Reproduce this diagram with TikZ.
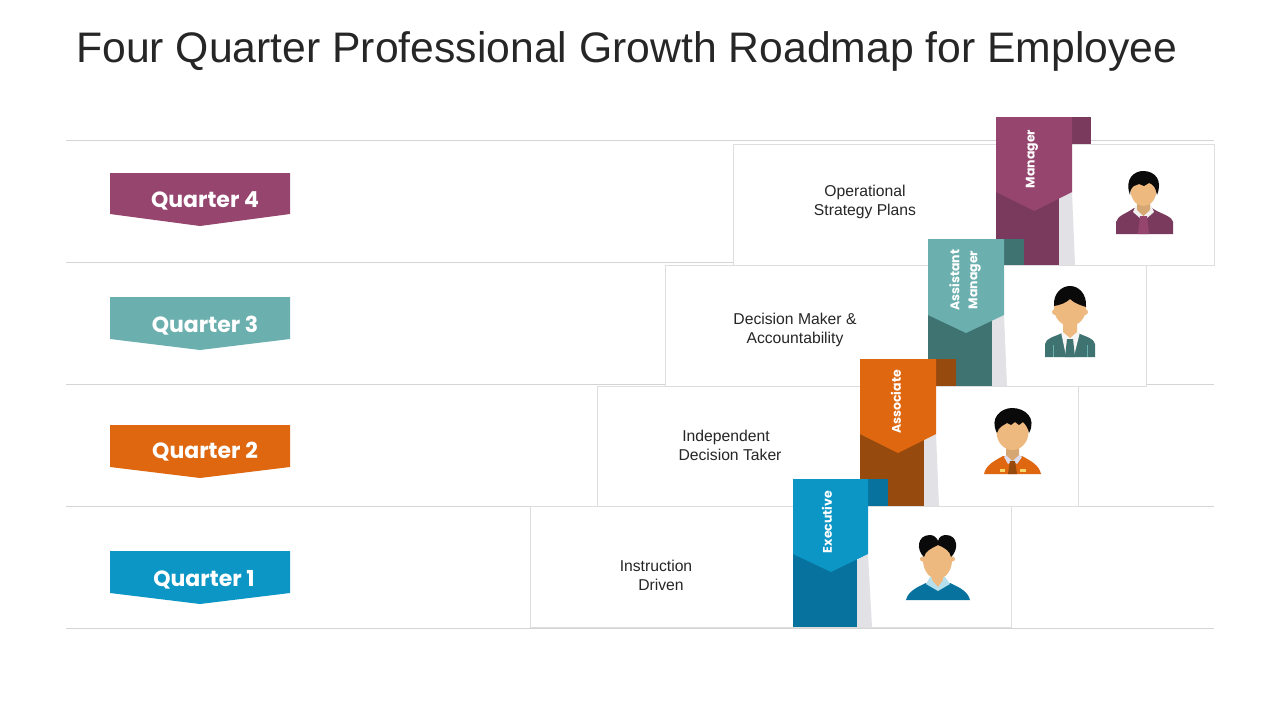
\documentclass[tikz,border=0pt]{standalone}
\usepackage{fontspec}
\setmainfont{Liberation Sans}
\newfontfamily\bannerfont{Poppins}
\usetikzlibrary{positioning,calc}
\definecolor{mgrfront}{HTML}{96456F}
\definecolor{mgrdark}{HTML}{7A3A5E}
\definecolor{astfront}{HTML}{6BB0AE}
\definecolor{astdark}{HTML}{3F7372}
\definecolor{ascfront}{HTML}{DE670F}
\definecolor{ascdark}{HTML}{964A0E}
\definecolor{exefront}{HTML}{0C96C6}
\definecolor{exedark}{HTML}{06729D}
\definecolor{wedge}{HTML}{E2E2E6}
\definecolor{skin}{HTML}{EEB97F}
\definecolor{hair}{HTML}{0A0A0A}
\definecolor{titleink}{HTML}{262626}
\definecolor{collar}{HTML}{DCDDF0}
\definecolor{pocket}{HTML}{F5D46A}

\begin{document}
\begin{tikzpicture}[
    x=1pt, y=-1pt,
    rowline/.style ={draw=black!17, line width=0.8pt},
    card/.style    ={draw=black!13, line width=1pt, fill=white, anchor=north west, minimum width=480.5pt, minimum height=120.5pt, inner sep=0pt},
    cardtext/.style={align=center, inner sep=0pt, text=black!85, font=\fontsize{15.7}{19}\selectfont},
    quarter/.style ={text=white, inner sep=0pt, font=\bannerfont\bfseries\fontsize{22}{24}\selectfont},
    role/.style    ={text=white, inner sep=0pt, rotate=90, align=center, font=\bannerfont\bfseries\fontsize{12.5}{18}\selectfont},
  ]
  \useasboundingbox (0,0) rectangle (1280,720);
  \node[anchor=west, inner sep=0pt, text=titleink, font=\fontsize{42.7}{50}\selectfont] (title) at (76,51) {Four Quarter Professional Growth Roadmap for Employee};
  % row lines
  \coordinate (rl-a) at (66,140);  \coordinate (rr-a) at (1214,140);
  \coordinate (rl-b) at (66,262);  \coordinate (rr-b) at (1214,262);
  \coordinate (rl-c) at (66,384);  \coordinate (rr-c) at (1214,384);
  \coordinate (rl-d) at (66,506);  \coordinate (rr-d) at (1214,506);
  \coordinate (rl-e) at (66,628);  \coordinate (rr-e) at (1214,628);
  \draw[rowline] (rl-a) -- (rr-a);
  \draw[rowline] (rl-b) -- (rr-b);
  \draw[rowline] (rl-c) -- (rr-c);
  \draw[rowline] (rl-d) -- (rr-d);
  \draw[rowline] (rl-e) -- (rr-e);
  % quarter banners
  \fill[mgrfront] (110,173) -- (290,173) -- (290,214) -- (200,226) -- (110,214) -- cycle;
  \node[quarter] (q4) at (205,200.5) {Quarter 4};
  \fill[astfront] (110,297) -- (290,297) -- (290,339) -- (200,350) -- (110,339) -- cycle;
  \node[quarter] (q3) at (205,325.5) {Quarter 3};
  \fill[ascfront] (110,425) -- (290,425) -- (290,467) -- (200,478) -- (110,467) -- cycle;
  \node[quarter] (q2) at (205,451.5) {Quarter 2};
  \fill[exefront] (110,551) -- (290,551) -- (290,593) -- (200,604) -- (110,593) -- cycle;
  \node[quarter] (q1) at (204,579.5) {Quarter 1};
  % top step: manager
  \node[card] (card-mgr) at (733,144) {};
  \node[cardtext] (text-mgr) at (865,202) {Operational\\Strategy Plans};
  \fill[mgrdark] (1116,234) -- (1116,222) .. controls (1118,215) and (1126,214) .. (1134,208) -- (1152,208) .. controls (1160,214) and (1171,215) .. (1173,222) -- (1173,234) -- cycle;
  \fill[black!6] (1133,212) -- (1136,205) -- (1151,205) -- (1154,212) -- (1146,219) -- (1141,219) -- cycle;
  \fill[skin!90!black] (1137,200) -- (1150,200) -- (1150,210) -- (1143.5,216) -- (1137,210) -- cycle;
  \fill[mgrfront] (1140,216) -- (1147,216) -- (1149,234) -- (1138,234) -- cycle;
  \fill[skin] (1143.5,190) ellipse [x radius=13, y radius=16];
  \fill[hair] (1130,195) .. controls (1124,178) and (1135,171) .. (1143,171) .. controls (1155,171) and (1163,180) .. (1157,195) .. controls (1156,188) and (1153,184) .. (1149,183) -- (1144,186) -- (1139,184) -- (1134,186) .. controls (1131,188) and (1130,191) .. (1130,195) -- cycle;
  \fill[wedge] (1059,197) -- (1072,192) -- (1075,265) -- (1059,265) -- cycle;
  \fill[mgrdark] (996,180) rectangle (1059,265);
  \fill[mgrdark] (1072,117) rectangle (1091,144);
  \fill[mgrfront] (996,117) -- (1072,117) -- (1072,192) -- (1034.5,211) -- (996,192) -- cycle;
  \node[role] (role-mgr) at (1032,159) {Manager};
  % second step: assistant manager
  \node[card] (card-ast) at (665,265) {};
  \node[cardtext] (text-ast) at (795,330) {Decision Maker \&\\Accountability};
  \fill[astdark] (1045,357) -- (1045,344) .. controls (1046,338) and (1054,337) .. (1062,333) -- (1078,333) .. controls (1086,337) and (1094,338) .. (1095,344) -- (1095,357) -- cycle;
  \draw[astfront, line width=1pt] (1053,345) -- (1053,357);
  \draw[astfront, line width=1pt] (1087,345) -- (1087,357);
  \fill[black!4] (1061,332) -- (1080,332) -- (1074,356) -- (1066,356) -- cycle;
  \fill[astdark] (1067,339) -- (1073,339) -- (1075,357) -- (1065,357) -- cycle;
  \fill[skin] (1063,318) -- (1077,318) -- (1077,332) -- (1070,338) -- (1063,332) -- cycle;
  \fill[skin] (1055,312) circle [radius=3];
  \fill[skin] (1085,312) circle [radius=3];
  \fill[skin] (1070,308) ellipse [x radius=16, y radius=18];
  \fill[hair] (1054,306) .. controls (1053,293) and (1062,286) .. (1070,286) .. controls (1078,286) and (1087,293) .. (1086,307) .. controls (1080,305) and (1074,303) .. (1070,299) .. controls (1066,303) and (1060,305) .. (1054,306) -- cycle;
  \fill[wedge] (992,320) -- (1004,315) -- (1007,386) -- (992,386) -- cycle;
  \fill[astdark] (928,300) rectangle (992,386);
  \fill[astdark] (1004,239) rectangle (1024,265);
  \fill[astfront] (928,239) -- (1004,239) -- (1004,315) -- (966,333) -- (928,315) -- cycle;
  \node[role] (role-ast) at (965,280) {Assistant\\Manager};
  % third step: associate
  \node[card, minimum height=119.5pt] (card-asc) at (597,386) {};
  \node[cardtext] (text-asc) at (730,445) {\hspace*{-8pt}Independent\\Decision Taker};
  \fill[ascfront] (984,474) .. controls (986,465) and (994,461) .. (1003,456) -- (1022,456) .. controls (1031,461) and (1039,465) .. (1041,474) -- cycle;
  \fill[collar] (1004,457) -- (1008,453) -- (1012.5,458) -- (1017,453) -- (1022,457) -- (1017,464) -- (1012.5,461) -- (1008,464) -- cycle;
  \fill[skin!90!black] (1006,446) -- (1019,446) -- (1019,455) -- (1012.5,461) -- (1006,455) -- cycle;
  \fill[ascdark] (1010,461) -- (1015,461) -- (1017,474) -- (1008,474) -- cycle;
  \fill[pocket] (1000,469) rectangle (1005,471.5);
  \fill[pocket] (1020,469) rectangle (1026,471.5);
  \fill[skin] (1012.5,432) ellipse [x radius=16, y radius=18];
  \fill[hair] (997,433) .. controls (989,418) and (1001,408) .. (1012,408) .. controls (1025,408) and (1037,418) .. (1029,433) .. controls (1028,428) and (1026,425) .. (1023,422) -- (1019,425) -- (1015,422) -- (1011,425) -- (1007,423) -- (1002,426) .. controls (999,428) and (998,430) .. (997,433) -- cycle;
  \fill[wedge] (924,440) -- (936,434) -- (939,506) -- (924,506) -- cycle;
  \fill[ascdark] (860,420) rectangle (924,506);
  \fill[ascdark] (936,359) rectangle (956,386);
  \fill[ascfront] (860,359) -- (936,359) -- (936,434) -- (898,453) -- (860,434) -- cycle;
  \node[role] (role-asc) at (896,402) {Associate};
  % bottom step: executive
  \node[card] (card-exe) at (530,506) {};
  \node[cardtext] (text-exe) at (656,575) {Instruction\\\hspace*{10pt}Driven};
  \fill[exedark] (906,600) .. controls (908,592) and (915,588) .. (926,583) -- (950,583) .. controls (961,588) and (968,592) .. (970,600) -- cycle;
  \fill[exefront!30!white] (926,584) -- (930,577) -- (945,577) -- (950,584) -- (938,591) -- cycle;
  \fill[skin] (932,570) -- (943,570) -- (943,580) -- (938,587) -- (932,580) -- cycle;
  \fill[skin] (922.5,559) circle [radius=2.5];
  \fill[skin] (952.5,559) circle [radius=2.5];
  \fill[skin] (937.5,560) ellipse [x radius=14.5, y radius=19];
  \fill[hair] (924,557) .. controls (916,550) and (917,535) .. (930,535) .. controls (934,535) and (937,538) .. (938,541) .. controls (939,537) and (942,535) .. (946,535) .. controls (958,535) and (959,550) .. (951,557) .. controls (950,551) and (945,548) .. (938,545) .. controls (932,548) and (925,551) .. (924,557) -- cycle;
  \fill[wedge] (857,560) -- (868,554) -- (872,627) -- (857,627) -- cycle;
  \fill[exedark] (793,540) rectangle (857,627);
  \fill[exedark] (868,479) rectangle (888,506);
  \fill[exefront] (793,479) -- (868,479) -- (868,554) -- (831,572) -- (793,554) -- cycle;
  \node[role] (role-exe) at (827,522) {Executive};
\end{tikzpicture}
\end{document}
